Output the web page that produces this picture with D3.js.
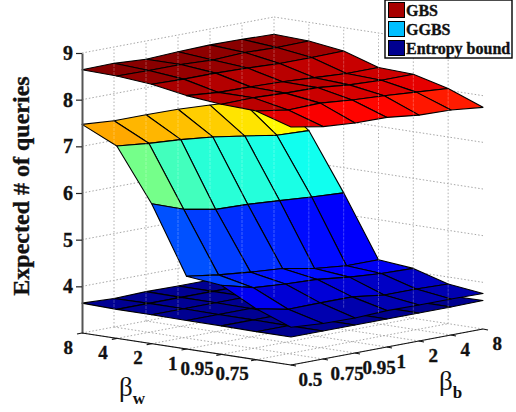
<!DOCTYPE html>
<head>
  <meta charset="utf-8">
  <script src="https://cdnjs.cloudflare.com/ajax/libs/d3/7.8.5/d3.min.js"></script>
  <style>
    body { margin:0; background:#fff; }
    svg { display:block; }
    text { font-family:"Liberation Serif"; font-weight:bold; fill:#111; }
    .heavy { stroke:#111; stroke-width:0.35; }
  </style>
</head>

<body>
  <script>
    var width = 516,
        height = 412;

    var wLabels = ["8", "4", "2", "1", "0.95", "0.75", "0.5"];
    var bLabels = ["0.5", "0.75", "0.95", "1", "2", "4", "8"];
    var zTicks = [4, 5, 6, 7, 8, 9];
    var legendNames = ["GBS", "GGBS", "Entropy bound"];
    var legendColors = ["#a80000", "#00bfff", "#000090"];

    // rows follow wLabels, columns follow bLabels
    var gbs = [
      [8.64, 8.65, 8.61, 8.64, 8.66, 8.65, 8.63],
      [8.62, 8.61, 8.61, 8.58, 8.61, 8.59, 8.60],
      [8.56, 8.54, 8.54, 8.52, 8.49, 8.49, 8.50],
      [8.43, 8.37, 8.36, 8.34, 8.30, 8.26, 8.26],
      [8.36, 8.37, 8.34, 8.33, 8.26, 8.23, 8.23],
      [8.33, 8.22, 8.24, 8.18, 8.14, 8.09, 8.04],
      [8.10, 7.98, 7.93, 7.92, 7.84, 7.82, 7.75]
    ];
    var ggbs = [
      [7.47, 7.42, 7.42, 7.41, 7.37, 7.32, 7.30],
      [7.12, 7.05, 7.00, 6.93, 6.82, 6.71, 6.68],
      [6.00, 5.75, 5.62, 5.60, 5.55, 5.50, 5.46],
      [4.56, 4.46, 4.39, 4.34, 4.21, 4.14, 4.14],
      [4.48, 4.30, 4.25, 4.22, 4.14, 4.09, 4.07],
      [4.09, 3.95, 3.96, 3.96, 3.87, 3.87, 3.85],
      [3.81, 3.76, 3.75, 3.78, 3.77, 3.77, 3.76]
    ];
    var entropy = [
      [3.64, 3.61, 3.63, 3.62, 3.62, 3.62, 3.62],
      [3.62, 3.62, 3.62, 3.62, 3.62, 3.62, 3.62],
      [3.62, 3.62, 3.62, 3.62, 3.62, 3.62, 3.62],
      [3.61, 3.61, 3.61, 3.61, 3.61, 3.61, 3.61],
      [3.61, 3.61, 3.61, 3.61, 3.61, 3.61, 3.61],
      [3.60, 3.60, 3.60, 3.60, 3.60, 3.60, 3.60],
      [3.60, 3.60, 3.60, 3.60, 3.60, 3.60, 3.61]
    ];

    var svg = d3.select("body")
      .append("svg")
      .attr("width", width)
      .attr("height", height);

    // fixed oblique view, one scale for each screen direction
    var wX = d3.scalePoint().domain(wLabels).range([82, 291]);
    var wY = d3.scalePoint().domain(wLabels).range([0, 32]);
    var bX = d3.scalePoint().domain(bLabels).range([0, 192]);
    var bY = d3.scalePoint().domain(bLabels).range([0, -36]);
    var zY = d3.scaleLinear().domain([3, 9]).range([333, 53]);

    // matlab jet
    var jet = d3.scaleLinear()
      .domain([3.6, 4.157, 5.422, 6.687, 7.952, 8.66])
      .range(["#00008f", "#0000ff", "#00ffff", "#ffff00", "#ff0000", "#800000"])
      .clamp(true);

    var project = function(w, b, z) {
      return [wX(w) + bX(b), zY(z) + wY(w) + bY(b)];
    };
    var line = d3.line();

    // grid on the two walls and the floor
    var gridLines = [];
    zTicks.forEach(function(z) {
      gridLines.push([project("8", "0.5", z), project("8", "8", z)]);
      gridLines.push([project("8", "8", z), project("0.5", "8", z)]);
    });
    var streaks = [];
    bLabels.forEach(function(b) {
      if (b != "0.5") {
        gridLines.push([project("8", b, 3), project("8", b, 9)]);
        streaks.push([project("8", b, 3), project("8", b, 9)]);
      }
      gridLines.push([project("8", b, 3), project("0.5", b, 3)]);
    });
    wLabels.forEach(function(w) {
      if (w != "0.5" && w != "8") {
        gridLines.push([project(w, "8", 3), project(w, "8", 9)]);
        streaks.push([project(w, "8", 3), project(w, "8", 9)]);
      }
      gridLines.push([project(w, "0.5", 3), project(w, "8", 3)]);
    });

    svg.append("g").selectAll("path").data(gridLines).enter().append("path")
      .attr("d", line)
      .attr("fill", "none")
      .attr("stroke", "#a8a8a8")
      .attr("stroke-width", 1)
      .attr("stroke-dasharray", "1.5,2");

    // faces back to front, coloured from the next row like matlab flat shading
    var drawSurface = function(values) {
      var faces = [];
      d3.range(wLabels.length - 1).forEach(function(i) {
        d3.range(bLabels.length - 2, -1, -1).forEach(function(j) {
          faces.push({
            points: [
              project(wLabels[i], bLabels[j], values[i][j]),
              project(wLabels[i], bLabels[j + 1], values[i][j + 1]),
              project(wLabels[i + 1], bLabels[j + 1], values[i + 1][j + 1]),
              project(wLabels[i + 1], bLabels[j], values[i + 1][j])
            ],
            level: values[i + 1][j]
          });
        });
      });
      svg.append("g").selectAll("path").data(faces).enter().append("path")
        .attr("d", function(d) { return line(d.points) + "Z"; })
        .attr("fill", function(d) { return jet(d.level); })
        .attr("stroke", "#000")
        .attr("stroke-width", 1.1)
        .attr("stroke-linejoin", "round");
    };
    drawSurface(entropy);
    drawSurface(ggbs);
    drawSurface(gbs);

    // the wall grid shows faintly through the faces in the original
    svg.append("g").selectAll("path").data(streaks).enter().append("path")
      .attr("d", line)
      .attr("fill", "none")
      .attr("stroke", "#fff")
      .attr("stroke-opacity", 0.25)
      .attr("stroke-width", 1)
      .attr("stroke-dasharray", "3,1");

    // z axis
    var zAxis = svg.append("g")
      .attr("transform", "translate(82,0)")
      .call(d3.axisLeft(zY).tickValues(zTicks).tickFormat(d3.format("d")).tickSize(6).tickSizeOuter(0).tickPadding(3));
    zAxis.select(".domain").attr("stroke", "#555").attr("stroke-width", 2);
    zAxis.selectAll(".tick line").attr("stroke", "#222").attr("stroke-width", 1.2);
    zAxis.selectAll("text")
      .attr("class", "heavy")
      .style("font-size", "20px")
      .style("font-family", "Liberation Serif");

    // floor axes with their ticks
    svg.append("path")
      .attr("d", line([project("8", "0.5", 3), project("0.5", "0.5", 3), project("0.5", "8", 3)]))
      .attr("fill", "none")
      .attr("stroke", "#111")
      .attr("stroke-width", 1.2);

    var wTicks = svg.append("g").selectAll("g").data(wLabels.slice(0, 6)).enter().append("g")
      .attr("transform", function(d) {
        var p = project(d, "0.5", 3);
        return "translate(" + p[0] + "," + p[1] + ")";
      });
    wTicks.append("line").attr("x2", -5).attr("y2", 1).attr("stroke", "#111").attr("stroke-width", 1.2);
    wTicks.append("text")
      .attr("class", "heavy")
      .attr("x", function(d) { return d.length > 1 ? -7.5 : -9; })
      .attr("y", 20.5)
      .attr("text-anchor", "end")
      .attr("font-size", 19)
      .text(function(d) { return d; });

    var bTicks = svg.append("g").selectAll("g").data(bLabels).enter().append("g")
      .attr("transform", function(d) {
        var p = project("0.5", d, 3);
        return "translate(" + p[0] + "," + p[1] + ")";
      });
    bTicks.append("line").attr("x2", 5).attr("y2", 1).attr("stroke", "#111").attr("stroke-width", 1.2);
    bTicks.append("text")
      .attr("class", "heavy")
      .attr("x", function(d) { return d.length > 1 ? 7.5 : 9.5; })
      .attr("y", 20.5)
      .attr("text-anchor", "start")
      .attr("font-size", 19)
      .text(function(d) { return d; });

    // axis titles
    svg.append("text")
      .attr("class", "heavy")
      .attr("transform", "translate(29,186) rotate(-90)")
      .attr("text-anchor", "middle")
      .attr("font-size", 24)
      .text("Expected # of queries");

    var titleW = svg.append("text").attr("x", 119).attr("y", 396);
    titleW.append("tspan").attr("font-size", 27).style("font-weight", "normal").text("β");
    titleW.append("tspan").attr("font-size", 17).attr("dy", 8).text("w");

    var titleB = svg.append("text").attr("x", 439).attr("y", 390);
    titleB.append("tspan").attr("font-size", 27).style("font-weight", "normal").text("β");
    titleB.append("tspan").attr("font-size", 17).attr("dy", 8).text("b");

    // legend sits over the top right corner
    var legend = svg.append("g");
    legend.append("rect")
      .attr("x", 385).attr("y", 0)
      .attr("width", 127).attr("height", 58)
      .attr("fill", "#fff")
      .attr("stroke", "#000")
      .attr("stroke-width", 1.4);
    var legendY = d3.scalePoint().domain(legendNames).range([10, 48]);
    var rows = legend.selectAll("g").data(legendNames).enter().append("g")
      .attr("transform", function(d) { return "translate(0," + legendY(d) + ")"; });
    rows.append("rect")
      .attr("x", 388.5).attr("y", -7.5)
      .attr("width", 16).attr("height", 15)
      .attr("fill", function(d, i) { return legendColors[i]; })
      .attr("stroke", "#000");
    rows.append("text")
      .attr("class", "heavy")
      .attr("x", 406).attr("y", 5.5)
      .attr("font-size", 16)
      .text(function(d) { return d; });
  </script>
</body>
